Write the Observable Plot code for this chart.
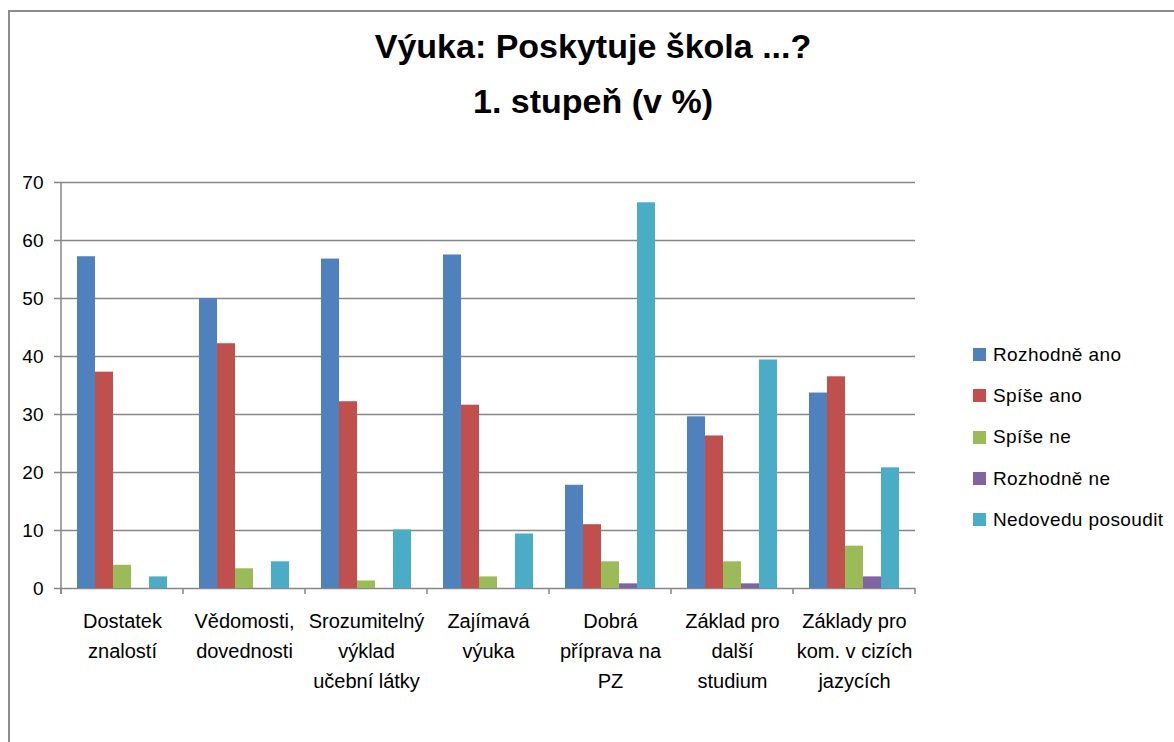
<!DOCTYPE html>
<html><head><meta charset="utf-8">
<script src="https://cdn.jsdelivr.net/npm/d3@7"></script>
<script src="https://cdn.jsdelivr.net/npm/@observablehq/plot@0.6"></script>
<style>
body{margin:0;width:1174px;height:742px;overflow:hidden;background:#fff;font-family:"Liberation Sans",sans-serif;color:#000;}
#frame{position:absolute;left:8px;top:10px;width:1200px;height:800px;border:2px solid #8c8c8c;box-sizing:border-box;}
#title{position:absolute;left:8px;width:1170px;top:19px;text-align:center;font-weight:bold;font-size:34px;line-height:55px;}
#chart{position:absolute;left:0;top:0;}
#legend{position:absolute;left:973px;top:334px;}
.item{display:flex;align-items:center;height:41.3px;font-size:19px;letter-spacing:0.4px;white-space:nowrap;}
.sw{width:13px;height:13px;margin-right:7px;flex:none;}
</style>
</head><body>
<div id="frame"></div>
<div id="title">Výuka: Poskytuje škola ...?<br>1. stupeň (v %)</div>
<div id="chart"></div>
<div id="legend"></div>
<script>
const categories = ["Dostatek\nznalostí", "Vědomosti,\ndovednosti", "Srozumitelný\nvýklad\nučební látky", "Zajímavá\nvýuka", "Dobrá\npříprava na\nPZ", "Základ pro\ndalší\nstudium", "Základy pro\nkom. v cizích\njazycích"];
const series = ["Rozhodně ano", "Spíše ano", "Spíše ne", "Rozhodně ne", "Nedovedu posoudit"];
const colors = ["#4F81BD", "#C0504D", "#9BBB59", "#8064A2", "#4BACC6"];
const rozhodneAno = [57.2, 50.0, 56.8, 57.5, 17.8, 29.6, 33.7];
const spiseAno = [37.3, 42.2, 32.2, 31.6, 11.0, 26.3, 36.5];
const spiseNe = [4.0, 3.4, 1.3, 2.0, 4.6, 4.6, 7.3];
const rozhodneNe = [0, 0, 0, 0, 0.8, 0.8, 2.0];
const nedovedu = [2.0, 4.6, 10.1, 9.4, 66.5, 39.4, 20.8];
const yTicks = [0, 10, 20, 30, 40, 50, 60, 70];

const values = [rozhodneAno, spiseAno, spiseNe, rozhodneNe, nedovedu];
const data = categories.flatMap((c, i) => series.map((s, j) => ({category: c, series: s, value: values[j][i]})));
const font = '"Liberation Sans",sans-serif';
const grid = "#868686";

const plot = Plot.plot({
  width: 930, height: 742,
  marginTop: 182, marginBottom: 154, marginLeft: 58, marginRight: 12,
  style: {fontFamily: font, fontSize: "17px", color: "#000", background: "transparent"},
  fx: {domain: categories, padding: 0, label: null},
  x: {domain: series, paddingInner: 0, paddingOuter: 0.737, axis: null},
  y: {domain: [0, 70], label: null},
  color: {domain: series, range: colors},
  marks: [
    Plot.gridY(yTicks.slice(1), {stroke: grid, strokeOpacity: 1, strokeWidth: 1.5}),
    Plot.ruleY([0], {stroke: grid, strokeWidth: 1.5}),
    Plot.barY(data, {fx: "category", x: "series", y: "value", fill: "series"}),
    Plot.axisY(yTicks, {tickSize: 7, tickPadding: 11, fontSize: 19, stroke: grid, strokeWidth: 1.5, fill: "#000", label: null}),
    Plot.axisFx({anchor: "bottom", tickSize: 0, tickPadding: 18, lineHeight: 1.5, lineAnchor: "top", fontSize: 20, fill: "#000", label: null})
  ]
});
document.getElementById("chart").appendChild(plot);

const fx = plot.scale("fx"), y = plot.scale("y");
const svg = d3.select(plot);
// axis line and category boundary ticks, positioned from Plot's scales
const y0 = y.apply(0), yTop = y.apply(70);
const bounds = categories.map(c => fx.apply(c)).concat([fx.apply(categories[categories.length - 1]) + fx.bandwidth]);
const g = svg.append("g").attr("stroke", grid).attr("stroke-width", 1.5);
g.append("line").attr("x1", bounds[0]).attr("x2", bounds[0]).attr("y1", yTop).attr("y2", y0 + 6);
bounds.forEach(b => g.append("line").attr("x1", b).attr("x2", b).attr("y1", y0).attr("y2", y0 + 6));

// legend
const legend = d3.select("#legend");
series.forEach((s, i) => {
  const it = legend.append("div").attr("class", "item");
  it.append("div").attr("class", "sw").style("background", colors[i]);
  it.append("span").text(s);
});
</script>
</body></html>
